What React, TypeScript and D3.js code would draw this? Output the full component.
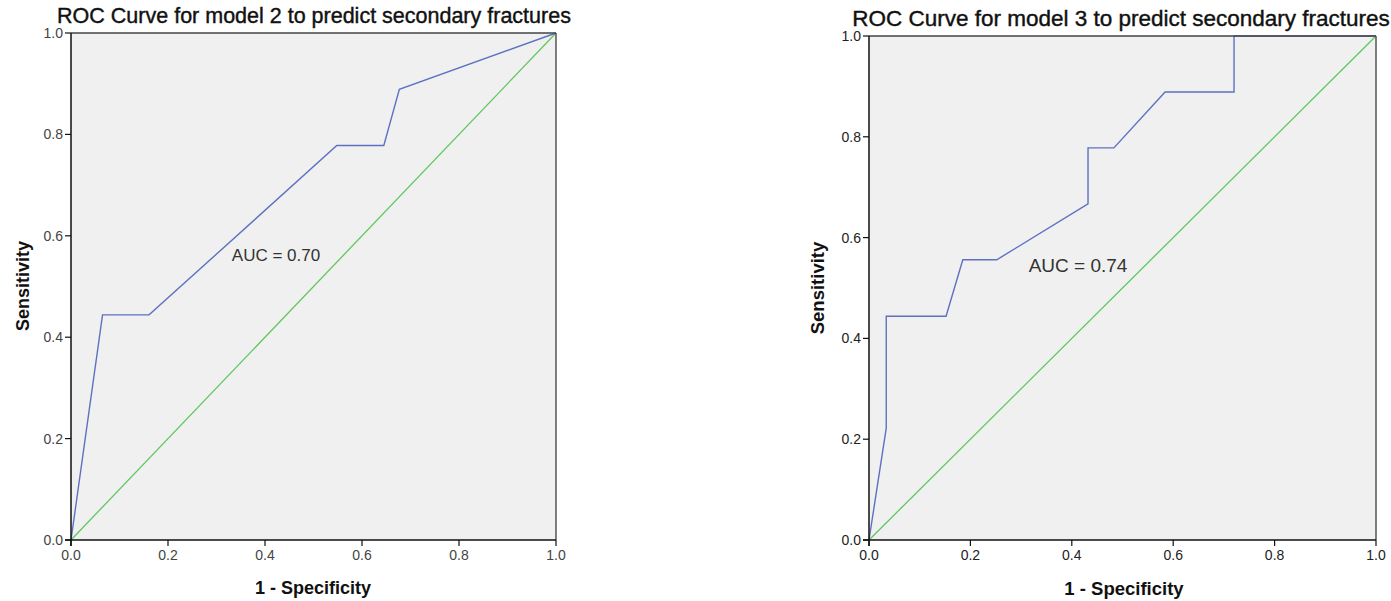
import React from "react";
import * as d3 from "d3";

const ticks = [0, 0.2, 0.4, 0.6, 0.8, 1.0];
const tickLabels = ["0.0", "0.2", "0.4", "0.6", "0.8", "1.0"];

const model2Fpr = [0, 0.065, 0.161, 0.548, 0.645, 0.677, 1];
const model2Tpr = [0, 0.444, 0.444, 0.778, 0.778, 0.889, 1];

const model3Fpr = [0, 0.034, 0.034, 0.152, 0.185, 0.252, 0.432, 0.432, 0.483, 0.584, 0.72, 0.72, 1];
const model3Tpr = [0, 0.222, 0.444, 0.444, 0.556, 0.556, 0.667, 0.778, 0.778, 0.889, 0.889, 1, 1];

const refLine = [0, 1];

type PanelProps = {
  title: string;
  auc: string;
  fpr: number[];
  tpr: number[];
  x0: number; x1: number; y0: number; y1: number;
  titleX: number; titleY: number; titleSize: number;
  aucX: number; aucY: number; aucSize: number;
  ylabX: number; ylabY: number; xlabX: number; xlabY: number; labSize: number;
  textColor: string;
};

function Panel(p: PanelProps) {
  const x = d3.scaleLinear().domain([0, 1]).range([p.x0, p.x1]);
  const y = d3.scaleLinear().domain([0, 1]).range([p.y0, p.y1]);
  const line = d3.line<number>().x((_, i) => x(p.fpr[i])).y((_, i) => y(p.tpr[i]));
  const diag = d3.line<number>().x((d) => x(d)).y((d) => y(d));
  const font = "'Liberation Sans', Arial, sans-serif";
  return (
    <g>
      <rect x={p.x0} y={p.y1} width={p.x1 - p.x0} height={p.y0 - p.y1} fill="#f0f0f0" />
      <path d={diag(refLine) || ""} fill="none" stroke="#5ec85e" strokeWidth={1.3} />
      <path d={line(p.fpr) || ""} fill="none" stroke="#5d71c0" strokeWidth={1.4} strokeLinejoin="miter" />
      <line x1={p.x0} x2={p.x1} y1={p.y1} y2={p.y1} stroke="#444" strokeWidth={1.5} />
      <line x1={p.x1} x2={p.x1} y1={p.y1} y2={p.y0} stroke="#555" strokeWidth={1.5} />
      <line x1={p.x0} x2={p.x0} y1={p.y1} y2={p.y0 + 6} stroke="#111" strokeWidth={1.5} />
      <line x1={p.x0 - 6} x2={p.x1} y1={p.y0} y2={p.y0} stroke="#111" strokeWidth={1.5} />
      {ticks.map((t, i) => (
        <g key={"y" + i}>
          <line x1={p.x0 - 6} x2={p.x0} y1={y(t)} y2={y(t)} stroke="#111" strokeWidth={1.2} />
          <text x={p.x0 - 8} y={y(t) + 5} textAnchor="end" fontFamily={font} fontSize={14} fill={p.textColor}>
            {tickLabels[i]}
          </text>
        </g>
      ))}
      {ticks.map((t, i) => (
        <g key={"x" + i}>
          <line x1={x(t)} x2={x(t)} y1={p.y0} y2={p.y0 + 6} stroke="#111" strokeWidth={1.2} />
          <text x={x(t)} y={p.y0 + 20} textAnchor="middle" fontFamily={font} fontSize={14} fill={p.textColor}>
            {tickLabels[i]}
          </text>
        </g>
      ))}
      <text x={p.titleX} y={p.titleY} textAnchor="middle" fontFamily={font} fontSize={p.titleSize} fill="#111" stroke="#111" strokeWidth={0.4}>
        {p.title}
      </text>
      <text x={p.aucX} y={p.aucY} textAnchor="middle" fontFamily={font} fontSize={p.aucSize} fill="#333">
        {p.auc}
      </text>
      <text
        transform={`translate(${p.ylabX},${p.ylabY}) rotate(-90)`}
        textAnchor="middle"
        fontFamily={font}
        fontSize={p.labSize}
        fontWeight="bold"
        fill="#111"
      >
        Sensitivity
      </text>
      <text x={p.xlabX} y={p.xlabY} textAnchor="middle" fontFamily={font} fontSize={p.labSize} fontWeight="bold" fill="#111">
        1 - Specificity
      </text>
    </g>
  );
}

export default function App() {
  return (
    <svg width={1391} height={601} style={{ position: "absolute", left: 0, top: 0, background: "#fff" }}>
      <Panel
        title="ROC Curve for model 2 to predict secondary fractures"
        auc="AUC = 0.70"
        fpr={model2Fpr}
        tpr={model2Tpr}
        x0={71} x1={556} y0={540} y1={33}
        titleX={314} titleY={23} titleSize={21.5}
        aucX={276} aucY={261} aucSize={17}
        ylabX={29} ylabY={286} xlabX={313} xlabY={594} labSize={18}
        textColor="#444"
      />
      <Panel
        title="ROC Curve for model 3 to predict secondary fractures"
        auc="AUC = 0.74"
        fpr={model3Fpr}
        tpr={model3Tpr}
        x0={869} x1={1376} y0={540} y1={36}
        titleX={1121} titleY={26} titleSize={22.5}
        aucX={1078} aucY={272} aucSize={19}
        ylabX={824} ylabY={288} xlabX={1124} xlabY={595} labSize={18.5}
        textColor="#222"
      />
    </svg>
  );
}
